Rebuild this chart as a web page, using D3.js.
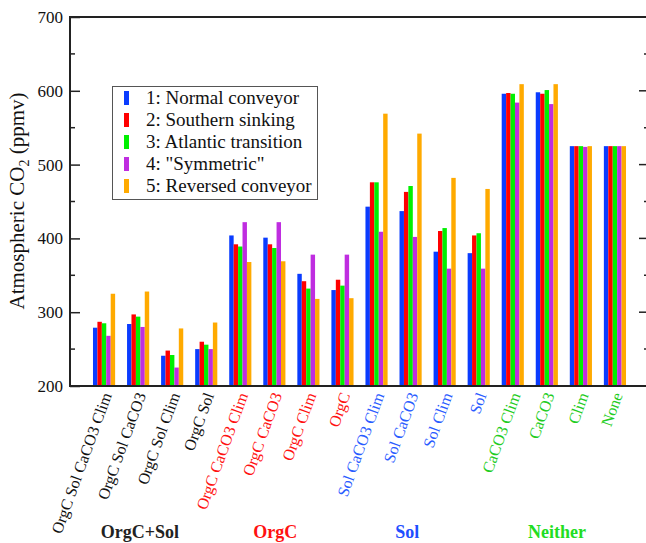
<!DOCTYPE html>
<html>
<head>
<meta charset="utf-8">
<script src="https://cdn.jsdelivr.net/npm/d3@7"></script>
<style>
  body { margin: 0; background: #fff; }
  svg text { font-family: "Liberation Serif", "Times New Roman", Tinos, "DejaVu Serif", serif; }
</style>
</head>
<body>
<svg id="chart" width="646" height="543"></svg>
<script>
// categories along the x axis
const categories = [
  'OrgC Sol CaCO3 Clim', 'OrgC Sol CaCO3', 'OrgC Sol Clim', 'OrgC Sol',
  'OrgC CaCO3 Clim', 'OrgC CaCO3', 'OrgC Clim', 'OrgC',
  'Sol CaCO3 Clim', 'Sol CaCO3', 'Sol Clim', 'Sol',
  'CaCO3 Clim', 'CaCO3', 'Clim', 'None'
]
// which group each category belongs to (0..3)
const catGroup = [0,0,0,0, 1,1,1,1, 2,2,2,2, 3,3,3,3]
const groupNames = ['OrgC+Sol', 'OrgC', 'Sol', 'Neither']

const seriesNames = ['1: Normal conveyor', '2: Southern sinking', '3: Atlantic transition', '4: "Symmetric"', '5: Reversed conveyor']

// atmospheric CO2 (ppmv), one array per series
const normal    = [279, 284, 241, 250, 404, 401, 352, 330, 443, 437, 382, 380, 596, 598, 525, 525]
const southern  = [287, 297, 248, 260, 392, 392, 342, 344, 476, 463, 410, 404, 597, 596, 525, 525]
const atlantic  = [285, 294, 242, 256, 389, 387, 332, 336, 476, 471, 414, 407, 596, 601, 525, 525]
const symmetric = [268, 280, 225, 250, 422, 422, 378, 378, 409, 402, 359, 359, 584, 582, 524, 525]
const reversed  = [325, 328, 278, 286, 368, 369, 318, 319, 569, 542, 482, 467, 609, 609, 525, 525]
const series = [normal, southern, atlantic, symmetric, reversed]

const yTicks = [200, 300, 400, 500, 600, 700]

const barColors = ['#0a3cff', '#ff0000', '#00f000', '#bf2de0', '#ffaa00']
const groupColors = ['#222222', '#ff1111', '#1f4fff', '#22dd22']
const labelColors = ['#111111', '#ff1111', '#2a5cff', '#22cc22']
const serif = '"Liberation Serif", "Times New Roman", Tinos, "DejaVu Serif", serif'

const svg = d3.select('#chart')

const xScale = d3.scaleLinear().domain([0, categories.length + 1]).range([70, 649])
const yScale = d3.scaleLinear().domain([200, 700]).range([386, 17])

const barW = 0.13 // in category units
// where the group titles sit, in category units
const groupLabelAt = [2.05, 6.03, 9.9, 14.3]

// bars
series.forEach((vals, k) => {
  svg.append('g')
    .selectAll('rect')
    .data(vals)
    .enter()
    .append('rect')
    .attr('x', (d, i) => xScale(i + 1 + (k - 2.5) * barW))
    .attr('y', d => yScale(d))
    .attr('width', xScale(barW) - xScale(0))
    .attr('height', d => yScale(200) - yScale(d))
    .attr('fill', barColors[k])
})

// left axis
const yAxis = d3.axisLeft(yScale).tickValues(yTicks).tickSize(-10).tickPadding(7).tickFormat(d3.format('d'))
const gy = svg.append('g').attr('transform', `translate(${xScale(0)},0)`).call(yAxis)
gy.attr('font-family', serif)
gy.select('.domain').remove()
gy.selectAll('line').attr('stroke', '#222').attr('stroke-width', 1.5)
gy.selectAll('text').attr('font-size', 17).attr('fill', '#111').attr('x', -7)

// minor ticks left and right
const minor = d3.range(250, 700, 100)
svg.append('g').selectAll('line').data(minor).enter().append('line')
  .attr('x1', xScale(0)).attr('x2', xScale(0) + 5)
  .attr('y1', d => yScale(d)).attr('y2', d => yScale(d))
  .attr('stroke', '#222').attr('stroke-width', 1.5)
svg.append('g').selectAll('line').data(yTicks).enter().append('line')
  .attr('x1', xScale(17)).attr('x2', xScale(17) - 10)
  .attr('y1', d => yScale(d)).attr('y2', d => yScale(d))
  .attr('stroke', '#222').attr('stroke-width', 1.5)
svg.append('g').selectAll('line').data(minor).enter().append('line')
  .attr('x1', xScale(17)).attr('x2', xScale(17) - 5)
  .attr('y1', d => yScale(d)).attr('y2', d => yScale(d))
  .attr('stroke', '#222').attr('stroke-width', 1.5)

// frame
svg.append('rect')
  .attr('x', xScale(0)).attr('y', yScale(700))
  .attr('width', xScale(17) - xScale(0)).attr('height', yScale(200) - yScale(700))
  .attr('fill', 'none').attr('stroke', '#222').attr('stroke-width', 2)

// category labels, rotated
svg.append('g').selectAll('text')
  .data(categories)
  .enter()
  .append('text')
  .attr('transform', (d, i) => `translate(${xScale(i + 1) + 8},395) rotate(-70)`)
  .attr('text-anchor', 'end')
  .attr('font-size', 16)
  .attr('fill', (d, i) => labelColors[catGroup[i]])
  .text(d => d)

// group labels
svg.append('g').selectAll('text')
  .data(groupNames)
  .enter()
  .append('text')
  .attr('x', (d, i) => xScale(groupLabelAt[i]))
  .attr('y', 538)
  .attr('text-anchor', 'middle')
  .attr('font-size', 18)
  .attr('font-weight', 'bold')
  .attr('fill', (d, i) => groupColors[i])
  .text(d => d)

// y label
const yl = svg.append('text')
  .attr('transform', 'translate(24,201) rotate(-90)')
  .attr('text-anchor', 'middle')
  .attr('font-size', 21)
  .attr('fill', '#111')
yl.append('tspan').text('Atmospheric CO')
yl.append('tspan').attr('font-size', 14).attr('dy', 5).text('2')
yl.append('tspan').attr('dy', -5).text(' (ppmv)')

// legend
const legend = svg.append('g')
legend.append('rect')
  .attr('x', 112.5).attr('y', 86.5).attr('width', 205).attr('height', 113)
  .attr('fill', '#fff').attr('stroke', '#555').attr('stroke-width', 1)
const rows = legend.selectAll('g.row')
  .data(seriesNames)
  .enter()
  .append('g')
  .attr('class', 'row')
  .attr('transform', (d, i) => `translate(0,${98 + i * 22})`)
rows.append('rect')
  .attr('x', 124).attr('y', -7).attr('width', 5).attr('height', 14)
  .attr('fill', (d, i) => barColors[i])
rows.append('text')
  .attr('x', 146).attr('y', 6)
  .attr('font-size', 19)
  .attr('fill', '#111')
  .text(d => d)
</script>
</body>
</html>
